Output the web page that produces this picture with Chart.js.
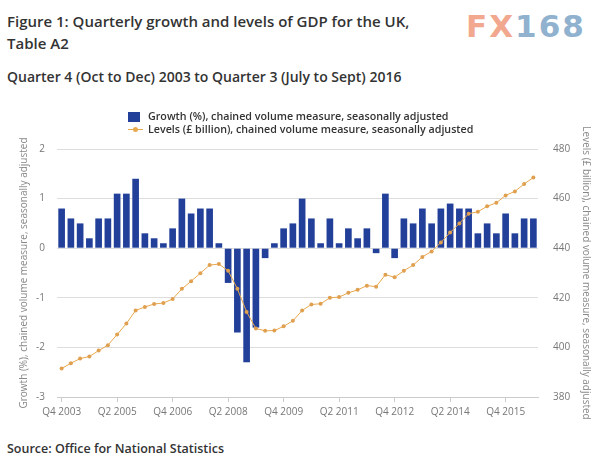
<!DOCTYPE html>
<html>
<head>
<meta charset="utf-8">
<script src="https://cdn.jsdelivr.net/npm/chart.js@4/dist/chart.umd.min.js"></script>
<style>
  html, body { margin: 0; padding: 0; background: #fff; }
  body { width: 600px; height: 461px; position: relative; overflow: hidden; font-family: "Open Sans", "Noto Sans", sans-serif; color: #333; }
  .title { position: absolute; left: 7px; top: 10px; font-size: 15px; font-weight: 600; line-height: 22px; color: #333; }
  .subtitle { position: absolute; left: 7px; top: 67px; font-size: 14px; font-weight: 600; color: #333; }
  .logo { position: absolute; left: 466px; top: 8px; font-family: "DejaVu Sans", sans-serif; font-weight: bold; font-size: 31px; letter-spacing: 2px; }
  .logo .fx { color: #f2a88e; }
  .logo .n { color: #90b2cf; }
  .legend { position: absolute; left: 128px; top: 110px; font-size: 10.7px; font-weight: 600; color: #333; line-height: 13px; }
  .legend .row { position: relative; padding-left: 20px; white-space: nowrap; }
  .sq { position: absolute; left: 0; top: 2px; width: 12px; height: 10px; background: #22409a; }
  .ln { position: absolute; left: 0; top: 6px; width: 15px; height: 1px; background: #e8a84e; }
  .dot { position: absolute; left: 5px; top: 4px; width: 5px; height: 5px; border-radius: 50%; background: #e8a84e; }
  .source { position: absolute; left: 7px; top: 440px; font-size: 12.5px; font-weight: 600; color: #333; }
  #wrap { position: absolute; left: 0; top: 115px; width: 600px; height: 310px; }
</style>
</head>
<body>
<div class="title">Figure 1: Quarterly growth and levels of GDP for the UK,<br>Table A2</div>
<div class="logo"><span class="fx">FX</span><span class="n">168</span></div>
<div class="subtitle">Quarter 4 (Oct to Dec) 2003 to Quarter 3 (July to Sept) 2016</div>
<div id="wrap"><canvas id="c" width="600" height="310"></canvas></div>
<div class="legend">
  <div class="row"><span class="sq"></span>Growth (%), chained volume measure, seasonally adjusted</div>
  <div class="row"><span class="ln"></span><span class="dot"></span>Levels (£ billion), chained volume measure, seasonally adjusted</div>
</div>
<div class="source">Source: Office for National Statistics</div>
<script>
// Quarters Q4 2003 .. Q3 2016
const quarters = [
  "Q4 2003",
  "Q1 2004","Q2 2004","Q3 2004","Q4 2004",
  "Q1 2005","Q2 2005","Q3 2005","Q4 2005",
  "Q1 2006","Q2 2006","Q3 2006","Q4 2006",
  "Q1 2007","Q2 2007","Q3 2007","Q4 2007",
  "Q1 2008","Q2 2008","Q3 2008","Q4 2008",
  "Q1 2009","Q2 2009","Q3 2009","Q4 2009",
  "Q1 2010","Q2 2010","Q3 2010","Q4 2010",
  "Q1 2011","Q2 2011","Q3 2011","Q4 2011",
  "Q1 2012","Q2 2012","Q3 2012","Q4 2012",
  "Q1 2013","Q2 2013","Q3 2013","Q4 2013",
  "Q1 2014","Q2 2014","Q3 2014","Q4 2014",
  "Q1 2015","Q2 2015","Q3 2015","Q4 2015",
  "Q1 2016","Q2 2016","Q3 2016"
];
// Growth (%), chained volume measure, seasonally adjusted
const growth = [
  0.8,
  0.6, 0.5, 0.2, 0.6,
  0.6, 1.1, 1.1, 1.4,
  0.3, 0.2, 0.1, 0.4,
  1.0, 0.7, 0.8, 0.8,
  0.1, -0.7, -1.7, -2.3,
  -1.6, -0.2, 0.1, 0.4,
  0.5, 1.0, 0.6, 0.1,
  0.6, 0.1, 0.4, 0.2,
  0.4, -0.1, 1.1, -0.2,
  0.6, 0.5, 0.8, 0.5,
  0.8, 0.9, 0.8, 0.8,
  0.3, 0.5, 0.3, 0.7,
  0.3, 0.6, 0.6
];
// Levels (£ billion), chained volume measure, seasonally adjusted
const levels = [
  391.5,
  393.6, 395.5, 396.3, 398.7,
  400.9, 405.2, 409.6, 414.9,
  416.3, 417.5, 417.9, 419.5,
  423.6, 426.7, 429.9, 433.2,
  433.6, 430.9, 423.6, 414.3,
  407.6, 406.7, 406.8, 408.5,
  410.7, 414.9, 417.3, 417.6,
  420.0, 420.3, 422.0, 423.2,
  424.9, 424.5, 429.3, 428.3,
  430.9, 433.2, 436.5, 438.7,
  442.3, 446.3, 450.0, 453.9,
  454.7, 456.9, 458.3, 461.3,
  462.9, 465.9, 468.5
];
const growthTicks = [-3, -2, -1, 0, 1, 2];
const levelTicks = [380, 400, 420, 440, 460, 480];
const labelEvery = 6;

const tickFont = { family: "'Open Sans', sans-serif", size: 10 };
const titleFont = { family: "'Open Sans', sans-serif", size: 10 };

new Chart(document.getElementById('c'), {
  type: 'bar',
  data: {
    labels: quarters,
    datasets: [
      {
        type: 'line',
        label: 'Levels (£ billion), chained volume measure, seasonally adjusted',
        data: levels,
        yAxisID: 'y1',
        borderColor: '#e8a84e',
        backgroundColor: '#e8a84e',
        borderWidth: 1,
        pointRadius: 2,
        pointBorderWidth: 0,
        pointBackgroundColor: '#e0a050',
        tension: 0,
        order: 0
      },
      {
        type: 'bar',
        label: 'Growth (%), chained volume measure, seasonally adjusted',
        data: growth,
        yAxisID: 'y',
        backgroundColor: '#22409a',
        barPercentage: 0.72,
        categoryPercentage: 1.0,
        order: 1
      }
    ]
  },
  options: {
    responsive: false,
    devicePixelRatio: 1,
    animation: false,
    layout: { padding: { top: 34, left: 0, right: 0, bottom: 0 } },
    plugins: { legend: { display: false }, tooltip: { enabled: false } },
    scales: {
      x: {
        type: 'category',
        offset: true,
        afterFit: s => { s.height = 28; },
        grid: { offset: false, drawOnChartArea: false, drawTicks: true, tickLength: 5, color: '#cccccc' },
        border: { display: true, color: '#cccccc' },
        ticks: {
          autoSkip: false, maxRotation: 0, minRotation: 0, padding: 4,
          color: '#777', font: tickFont,
          callback: (v, i) => (i % labelEvery === 0 ? quarters[i] : null)
        }
      },
      y: {
        position: 'left',
        min: growthTicks[0], max: growthTicks[growthTicks.length - 1],
        afterFit: s => { s.width = 57; },
        afterBuildTicks: s => { s.ticks = growthTicks.map(v => ({ value: v })); },
        grid: { color: '#dddddd', drawTicks: false },
        border: { display: false },
        ticks: { padding: 12, color: '#777', font: tickFont },
        title: { display: true, text: 'Growth (%), chained volume measure, seasonally adjusted', color: '#888', font: titleFont, padding: { top: 18, bottom: 0 } }
      },
      y1: {
        position: 'right',
        min: levelTicks[0], max: levelTicks[levelTicks.length - 1],
        afterFit: s => { s.width = 62; },
        afterBuildTicks: s => { s.ticks = levelTicks.map(v => ({ value: v })); },
        grid: { drawOnChartArea: false, drawTicks: false },
        border: { display: false },
        ticks: { padding: 15, color: '#777', font: tickFont },
        title: { display: true, text: 'Levels (£ billion), chained volume measure, seasonally adjusted', color: '#888', font: titleFont, padding: { top: 8, bottom: 0 } }
      }
    }
  }
});
</script>
</body>
</html>
